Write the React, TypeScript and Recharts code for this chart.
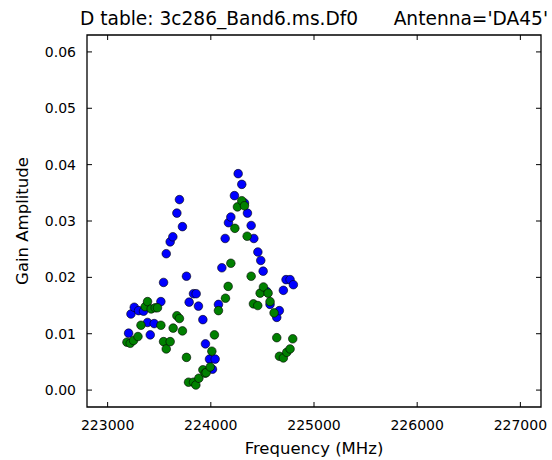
import { ScatterChart, Scatter, XAxis, YAxis, ReferenceArea } from 'recharts';

const blueFreq = [
  223203, 223226, 223258, 223300, 223348, 223387, 223413, 223451, 223516, 223542,
  223568, 223606, 223632, 223671, 223696, 223725, 223764, 223790, 223832, 223858,
  223880, 223923, 223948, 223987, 224016, 224042, 224074, 224107, 224139, 224171,
  224194, 224229, 224265, 224300, 224326, 224355, 224391, 224417, 224456, 224484,
  224507, 224542, 224574, 224639, 224664, 224703, 224729, 224768, 224800,
];
const blueAmp = [
  0.0101, 0.0135, 0.0147, 0.0141, 0.014, 0.012, 0.0098, 0.0118, 0.0157, 0.0191,
  0.0242, 0.0263, 0.0272, 0.0314, 0.0338, 0.029, 0.0202, 0.0156, 0.0171, 0.0171,
  0.0149, 0.0125, 0.0082, 0.0055, 0.0037, 0.0055, 0.0152, 0.0217, 0.0269, 0.0297,
  0.0307, 0.0345, 0.0384, 0.0365, 0.0332, 0.0314, 0.0292, 0.0269, 0.0245, 0.023,
  0.0211, 0.0175, 0.0152, 0.0129, 0.0141, 0.0177, 0.0196, 0.0196, 0.0187,
];

const greenFreq = [
  223187, 223219, 223251, 223294, 223323, 223364, 223387, 223422, 223461, 223483,
  223516, 223542, 223568, 223606, 223635, 223671, 223696, 223725, 223764, 223784,
  223832, 223855, 223884, 223923, 223945, 223955, 223994, 224010, 224035, 224074,
  224142, 224168, 224194, 224233, 224258, 224300, 224326, 224352, 224391, 224413,
  224455, 224478, 224510, 224555, 224574, 224613, 224639, 224665, 224703, 224736,
  224768, 224794,
];
const greenAmp = [
  0.0085, 0.0083, 0.0088, 0.0095, 0.0115, 0.0148, 0.0157, 0.0144, 0.0146, 0.0146,
  0.0115, 0.0086, 0.0073, 0.0086, 0.011, 0.0132, 0.0127, 0.0105, 0.0058, 0.0014,
  0.0014, 0.0009, 0.0021, 0.0036, 0.003, 0.0031, 0.0041, 0.0069, 0.0098, 0.0141,
  0.0163, 0.0184, 0.0225, 0.0287, 0.0325, 0.0336, 0.0327, 0.0273, 0.0202, 0.0153,
  0.015, 0.0172, 0.0183, 0.0172, 0.0157, 0.0137, 0.0093, 0.006, 0.0057, 0.0067,
  0.0073, 0.0091,
];

const xTicks = [223000, 224000, 225000, 226000, 227000];
const yTicks = [0, 0.01, 0.02, 0.03, 0.04, 0.05, 0.06];
const xDomain = [222800, 227200];
const yDomain = [-0.003, 0.063];

const blueData = blueFreq.map((f, i) => ({ freq: f, amp: blueAmp[i] }));
const greenData = greenFreq.map((f, i) => ({ freq: f, amp: greenAmp[i] }));

const W = 552;
const H = 460;
const TOP = 35;
const LEFT = 87;
const RIGHT = 11;
const XH = 53;
const BOTTOM = H - XH;
const FONT = 'DejaVu Sans, sans-serif';

const XTick = (props: any) => {
  const { x, payload } = props;
  return (
    <g>
      <line x1={x} x2={x} y1={BOTTOM} y2={BOTTOM - 5} stroke="#000" />
      <line x1={x} x2={x} y1={TOP} y2={TOP + 5} stroke="#000" />
      <text x={x} y={BOTTOM + 23} textAnchor="middle" fontSize={14} fontFamily={FONT} fill="#000">
        {payload.value}
      </text>
    </g>
  );
};

const YTick = (props: any) => {
  const { y, payload } = props;
  return (
    <g>
      <line x1={LEFT} x2={LEFT + 5} y1={y} y2={y} stroke="#000" />
      <line x1={W - RIGHT} x2={W - RIGHT - 5} y1={y} y2={y} stroke="#000" />
      <text x={LEFT - 11} y={y + 5} textAnchor="end" fontSize={14} fontFamily={FONT} fill="#000">
        {payload.value.toFixed(2)}
      </text>
    </g>
  );
};

const dot = (fill: string) => (props: any) => (
  <circle cx={props.cx} cy={props.cy} r={4.3} fill={fill} stroke="#000" strokeWidth={0.6} />
);

export default function App() {
  return (
    <div style={{ position: 'absolute', left: 0, top: 0, width: W, height: H, background: '#fff' }}>
      <ScatterChart width={W} height={H} margin={{ top: TOP, right: RIGHT, bottom: 0, left: 0 }}>
        <XAxis
          type="number"
          dataKey="freq"
          domain={xDomain}
          ticks={xTicks}
          allowDataOverflow
          height={XH}
          axisLine={false}
          tickLine={false}
          tick={XTick}
          label={{ value: 'Frequency (MHz)', position: 'insideBottom', offset: 6, fontSize: 16.5, fontFamily: FONT, fill: '#000' }}
        />
        <YAxis
          type="number"
          dataKey="amp"
          domain={yDomain}
          ticks={yTicks}
          allowDataOverflow
          width={LEFT}
          axisLine={false}
          tickLine={false}
          tick={YTick}
          label={{ value: 'Gain Amplitude', angle: -90, position: 'insideLeft', offset: 22, fontSize: 16.5, fontFamily: FONT, fill: '#000', style: { textAnchor: 'middle' } }}
        />
        <ReferenceArea
          x1={xDomain[0]}
          x2={xDomain[1]}
          y1={yDomain[0]}
          y2={yDomain[1]}
          fill="none"
          stroke="#000"
          strokeWidth={1.3}
          fillOpacity={0}
        />
        <Scatter data={blueData} fill="#0000ff" shape={dot('#0000ff')} isAnimationActive={false} />
        <Scatter data={greenData} fill="#008000" shape={dot('#008000')} isAnimationActive={false} />
      </ScatterChart>
      <div
        style={{
          position: 'absolute',
          top: 5,
          left: LEFT - 40,
          width: W - LEFT - RIGHT + 80,
          textAlign: 'center',
          fontFamily: FONT,
          fontSize: 18.6,
          lineHeight: '28px',
          whiteSpace: 'pre',
          color: '#000',
        }}
      >
        {"D table: 3c286_Band6.ms.Df0      Antenna='DA45'"}
      </div>
    </div>
  );
}
